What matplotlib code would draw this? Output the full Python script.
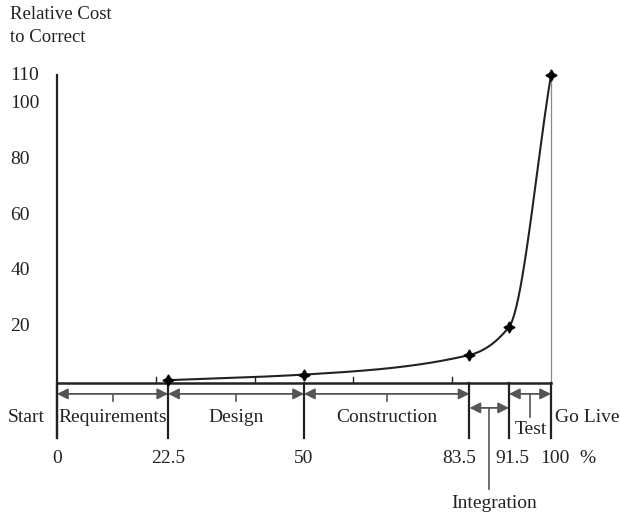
import numpy as np
import matplotlib
matplotlib.use("Agg")
import matplotlib.pyplot as plt

plt.rcParams['font.family'] = ['Liberation Serif', 'DejaVu Serif']

# phase boundaries (% of project) and relative cost
phase_pct = [22.5, 50, 83.5, 91.5, 100]
rel_cost = [1, 3, 10, 20, 110]
boundaries = [0, 22.5, 50, 83.5, 91.5, 100]
phase_names = ["Requirements", "Design", "Construction", "Integration", "Test"]
y_ticks = [20, 40, 60, 80, 100, 110]
minor_x = [20, 40, 60, 80]

ink = '#222222'
grey = '#555555'


def pchip(x, y, xs):
    # monotone cubic, only to draw the line smooth
    x = np.asarray(x, float)
    y = np.asarray(y, float)
    h = np.diff(x)
    d = np.diff(y) / h
    m = np.zeros_like(y)
    for k in range(1, len(x) - 1):
        w1 = 2 * h[k] + h[k - 1]
        w2 = h[k] + 2 * h[k - 1]
        m[k] = (w1 + w2) / (w1 / d[k - 1] + w2 / d[k])
    m[0] = d[0]
    m[-1] = d[-1]
    out = []
    for xv in xs:
        k = min(np.searchsorted(x, xv, side='right') - 1, len(x) - 2)
        t = (xv - x[k]) / h[k]
        h00 = 2 * t**3 - 3 * t**2 + 1
        h10 = t**3 - 2 * t**2 + t
        h01 = -2 * t**3 + 3 * t**2
        h11 = t**3 - t**2
        out.append(h00 * y[k] + h10 * h[k] * m[k] + h01 * y[k + 1] + h11 * h[k] * m[k + 1])
    return np.array(out)


fig = plt.figure(figsize=(6.2, 5.14), dpi=100)
ax = fig.add_axes([0, 0, 1, 1])
ax.set_xlim(-11.54, 113.97)
ax.set_ylim(-46.8, 136.8)
ax.axis('off')

# axes lines
ax.plot([0, 0], [110, -19.6], color=ink, lw=1.6)
ax.plot([0, 100], [0, 0], color=ink, lw=1.8)
ax.plot([100, 100], [110, 0], color='#888888', lw=0.9)
for b in boundaries:
    ax.plot([b, b], [0, -19.6], color=ink, lw=1.6)
for mx in minor_x:
    ax.plot([mx, mx], [0, 2], color=ink, lw=1.0)

# y tick labels
for yt in y_ticks:
    ax.text(-9.4, yt, str(yt), ha='left', va='center', fontsize=14, color=ink)
ax.text(-9.6, 127.5, "Relative Cost\nto Correct", ha='left', va='center',
        fontsize=13.5, color=ink, linespacing=1.45)

# curve
xs = np.linspace(phase_pct[0], phase_pct[-1], 400)
ax.plot(xs, pchip(phase_pct, rel_cost, xs), color=ink, lw=1.5)
ax.plot(phase_pct, rel_cost, linestyle='none', marker=(4, 1, 0), markersize=8,
        color='black')


def arrow(x0, x1, y):
    ax.annotate('', xy=(x1, y), xytext=(x0, y),
                arrowprops=dict(arrowstyle='<|-|>', color=grey, lw=1.3,
                                mutation_scale=16, shrinkA=0, shrinkB=0))


# phase arrows
for a, b in zip(boundaries[:3], boundaries[1:4]):
    arrow(a, b, -3.9)
    ax.plot([(a + b) / 2] * 2, [-3.9, -6.3], color=grey, lw=1.2)
arrow(boundaries[3], boundaries[4], -8.9)
ax.plot([(boundaries[3] + boundaries[4]) / 2] * 2, [-8.9, -37.9], color=grey, lw=1.2)
arrow(boundaries[4], boundaries[5], -3.9)
ax.plot([(boundaries[4] + boundaries[5]) / 2] * 2, [-3.9, -12.0], color=grey, lw=1.2)

# phase labels
lab_y = -12.5
ax.text(-2.5, lab_y, "Start", ha='right', va='center', fontsize=14, color=ink)
for i in range(3):
    ax.text((boundaries[i] + boundaries[i + 1]) / 2, lab_y, phase_names[i],
            ha='center', va='center', fontsize=14, color=ink)
ax.text(88.5, -43.0, phase_names[3], ha='center', va='center', fontsize=14, color=ink)
ax.text(96.0, -16.6, phase_names[4], ha='center', va='center', fontsize=14, color=ink)
ax.text(100.8, lab_y, "Go Live", ha='left', va='center', fontsize=14, color=ink)

# percentage labels
num_y = -26.8
for b in boundaries:
    lbl = ('%g' % b)
    xb = b
    if b == 83.5:
        xb = 81.5
    if b == 91.5:
        xb = 92.2
    if b == 100:
        xb = 100.7
    ax.text(xb, num_y, lbl, ha='center', va='center', fontsize=14, color=ink)
ax.text(107.3, num_y, "%", ha='center', va='center', fontsize=14, color=ink)

fig.savefig("out.png", dpi=100)
